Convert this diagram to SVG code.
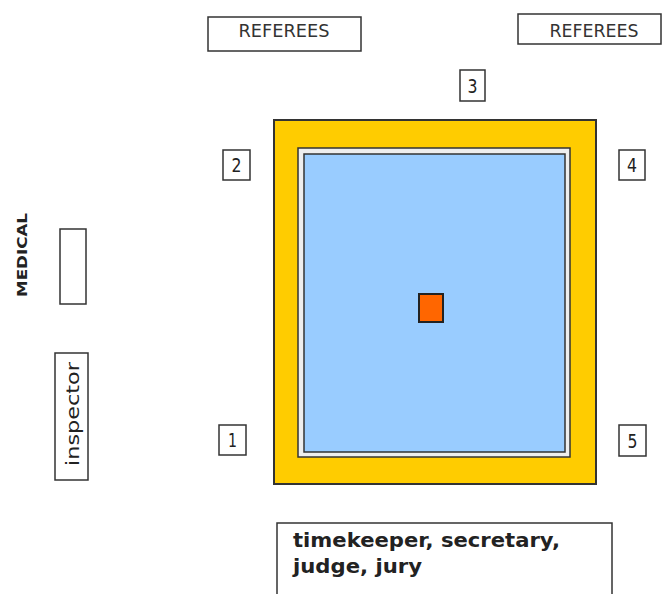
<svg xmlns="http://www.w3.org/2000/svg" width="663" height="594" viewBox="0 0 663 594">
<style>
.box{fill:#fff;stroke:#333;stroke-width:1.5}
.num{font-family:"DejaVu Sans",sans-serif;font-size:19px;fill:#222;text-anchor:middle}
.ref{font-family:"DejaVu Sans",sans-serif;font-size:17px;fill:#333;text-anchor:middle}
</style>
<rect width="663" height="594" fill="#fff"/>
<g id="referees1"><rect class="box" x="208" y="17" width="153" height="34"/><text class="ref" x="284" y="37" textLength="91" lengthAdjust="spacingAndGlyphs">REFEREES</text></g>
<g id="referees2"><rect class="box" x="518" y="14" width="143" height="30"/><text class="ref" x="594" y="37" textLength="89" lengthAdjust="spacingAndGlyphs">REFEREES</text></g>
<g id="n3"><rect class="box" x="460" y="70" width="25" height="31"/><text class="num" x="472.5" y="93" textLength="10" lengthAdjust="spacingAndGlyphs">3</text></g>
<g id="n2"><rect class="box" x="223" y="150" width="27" height="30"/><text class="num" x="236.5" y="172" textLength="10" lengthAdjust="spacingAndGlyphs">2</text></g>
<g id="n4"><rect class="box" x="619" y="150" width="26" height="30"/><text class="num" x="632" y="172" textLength="10" lengthAdjust="spacingAndGlyphs">4</text></g>
<g id="n1"><rect class="box" x="219" y="425" width="27" height="30"/><text class="num" x="232.5" y="447" textLength="9" lengthAdjust="spacingAndGlyphs">1</text></g>
<g id="n5"><rect class="box" x="619" y="425" width="27" height="31"/><text class="num" x="632.5" y="448" textLength="10" lengthAdjust="spacingAndGlyphs">5</text></g>
<g id="ring">
<rect x="274" y="120" width="322" height="364" fill="#FFCC00" stroke="#333" stroke-width="2"/>
<rect x="298" y="148" width="272" height="309" fill="#eee" stroke="#333" stroke-width="1.5"/>
<rect x="304" y="154" width="261" height="298" fill="#99CCFF" stroke="#333" stroke-width="1.5"/>
<rect x="419" y="294" width="24" height="28" fill="#FF6600" stroke="#222" stroke-width="2"/>
</g>
<g id="medical">
<text font-family="DejaVu Sans,sans-serif" font-size="14" font-weight="600" fill="#222" transform="translate(27,297) rotate(-90)" textLength="84" lengthAdjust="spacingAndGlyphs">MEDICAL</text>
<rect class="box" x="60" y="229" width="26" height="75"/>
</g>
<g id="inspector">
<rect class="box" x="55" y="353" width="33" height="127"/>
<text font-family="DejaVu Sans,sans-serif" font-size="17" fill="#222" transform="translate(79,466) rotate(-90)" textLength="104" lengthAdjust="spacingAndGlyphs">inspector</text>
</g>
<g id="officials">
<rect class="box" x="277" y="523" width="335" height="80"/>
<text font-family="DejaVu Sans,sans-serif" font-size="19" font-weight="bold" fill="#222"><tspan x="293" y="547" textLength="267" lengthAdjust="spacingAndGlyphs">timekeeper, secretary,</tspan><tspan x="293" y="573" textLength="129" lengthAdjust="spacingAndGlyphs">judge, jury</tspan></text>
</g>
<g id="connectors"/>
</svg>
